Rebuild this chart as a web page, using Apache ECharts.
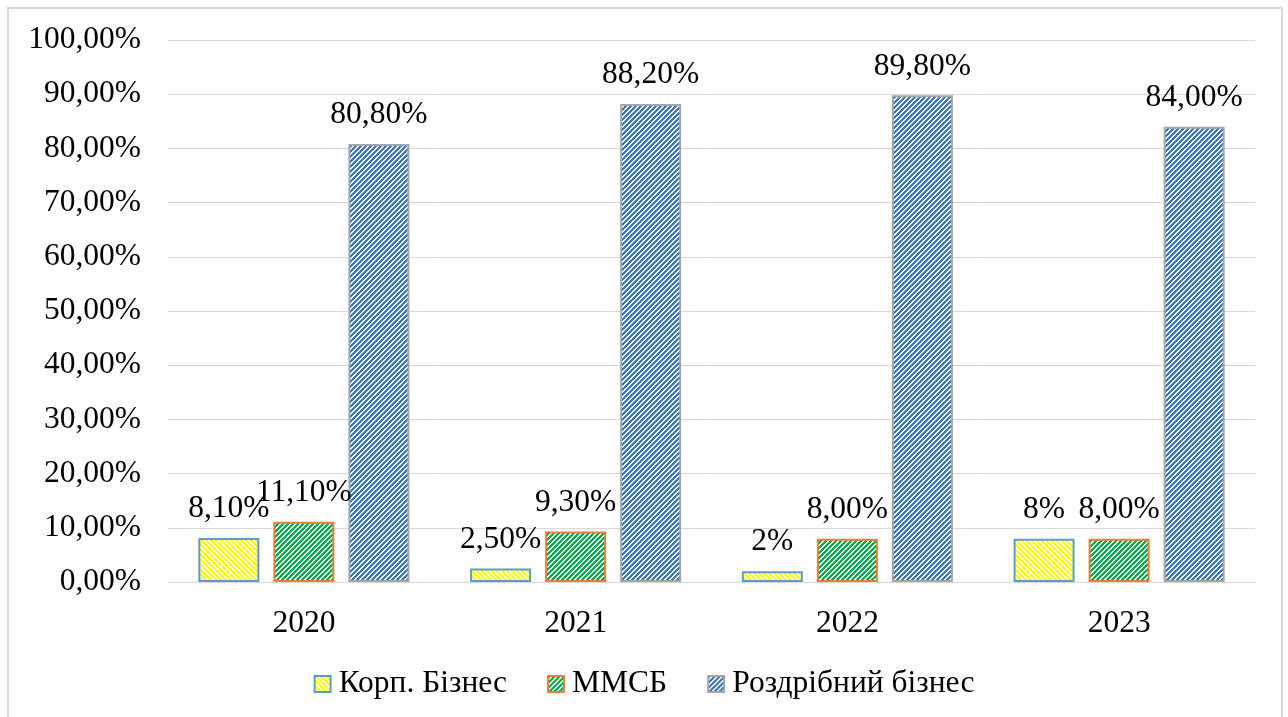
<!DOCTYPE html>
<html>
<head>
<meta charset="utf-8">
<script src="https://cdn.jsdelivr.net/npm/echarts@6/dist/echarts.min.js"></script>
<style>
  html, body { margin: 0; padding: 0; background: #fff; }
  #chart { width: 1288px; height: 717px; }
</style>
</head>
<body>
<div id="chart"></div>
<script>
// Частка кредитного портфеля за сегментами, %
const years = ['2020', '2021', '2022', '2023'];
const seriesNames = ['Корп. Бізнес', 'ММСБ', 'Роздрібний бізнес'];
const corpValues = [8.1, 2.5, 2, 8];
const smeValues = [11.1, 9.3, 8.0, 8.0];
const retailValues = [80.8, 88.2, 89.8, 84.0];
// Підписи значень так, як вони надруковані над стовпцями
const corpLabels = ['8,10%', '2,50%', '2%', '8%'];
const smeLabels = ['11,10%', '9,30%', '8,00%', '8,00%'];
const retailLabels = ['80,80%', '88,20%', '89,80%', '84,00%'];

const FONT = '"Liberation Serif", "Times New Roman", serif';
const FS = 31.5;

// Штрихування діагональними смугами
function hatch(color, dir) {
  const p = 5;
  const c = document.createElement('canvas');
  c.width = p; c.height = p;
  const ctx = c.getContext('2d');
  ctx.fillStyle = '#ffffff';
  ctx.fillRect(0, 0, p, p);
  ctx.fillStyle = color;
  for (let x = 0; x < p; x++) {
    for (let y = 0; y < p; y++) {
      const k = dir === '/' ? (x + y) % p : (x - y + p) % p;
      if (k < 3) ctx.fillRect(x, y, 1, 1);
    }
  }
  return { image: c, repeat: 'repeat' };
}

function barSeries(name, values, labels, fill, border) {
  return {
    name: name,
    type: 'bar',
    barWidth: 61,
    barGap: '23%',
    data: values,
    itemStyle: { color: fill, borderColor: border, borderWidth: 2 },
    label: {
      show: true,
      position: 'top',
      distance: 13,
      fontFamily: FONT,
      fontSize: FS,
      color: '#000',
      formatter: p => labels[p.dataIndex]
    }
  };
}

const chart = echarts.init(document.getElementById('chart'), null, { renderer: 'canvas' });
chart.setOption({
  backgroundColor: '#ffffff',
  animation: false,
  graphic: [{
    type: 'rect',
    shape: { x: 8, y: 8, width: 1274, height: 716 },
    style: { fill: 'none', stroke: '#d9d9d9', lineWidth: 2 },
    silent: true
  }],
  grid: { left: 168, right: 33, top: 40, bottom: 135 },
  xAxis: {
    type: 'category',
    data: years,
    axisLine: { show: true, lineStyle: { color: '#d9d9d9', width: 1 } },
    axisTick: { show: false },
    axisLabel: { fontFamily: FONT, fontSize: FS, color: '#000', margin: 26 }
  },
  yAxis: {
    type: 'value',
    min: 0,
    max: 100,
    interval: 10,
    axisLine: { show: false },
    axisTick: { show: false },
    splitLine: { lineStyle: { color: '#d9d9d9', width: 1 } },
    axisLabel: {
      fontFamily: FONT, fontSize: FS, color: '#000', margin: 27,
      formatter: v => v.toFixed(2).replace('.', ',') + '%'
    }
  },
  legend: {
    bottom: 12,
    left: 'center',
    itemWidth: 16,
    itemHeight: 16,
    itemGap: 40,
    icon: 'rect',
    textStyle: { fontFamily: FONT, fontSize: FS, color: '#000', padding: [0, 0, 0, 3] },
    data: seriesNames
  },
  series: [
    barSeries(seriesNames[0], corpValues, corpLabels, hatch('#ffff00', '\\'), '#5b9bd5'),
    barSeries(seriesNames[1], smeValues, smeLabels, hatch('#00b050', '/'), '#ed7d31'),
    barSeries(seriesNames[2], retailValues, retailLabels, hatch('#3a78c2', '/'), '#a5a5a5')
  ]
});
</script>
</body>
</html>
